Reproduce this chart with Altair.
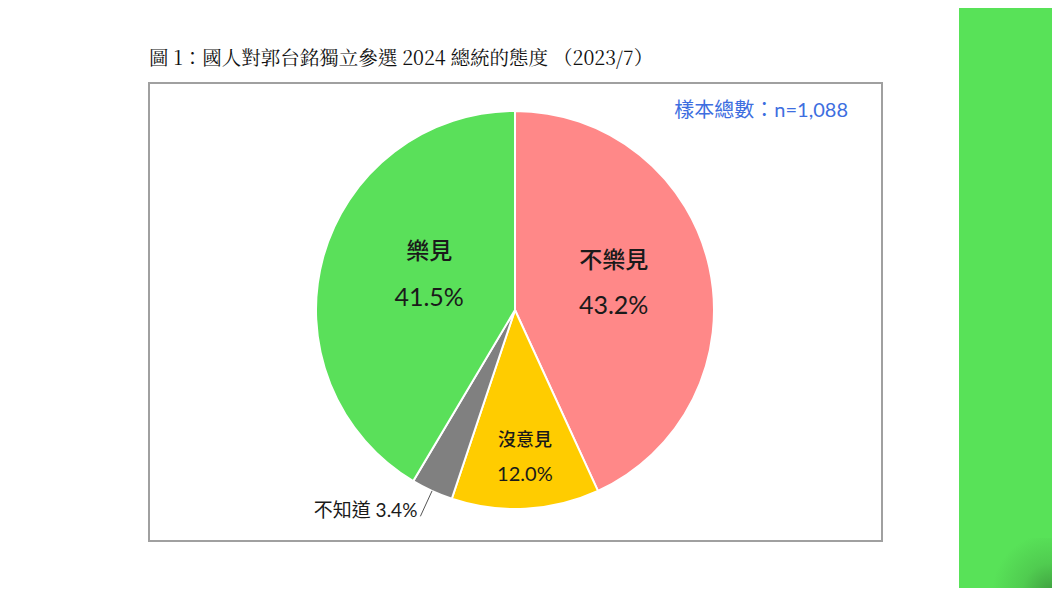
import altair as alt
import pandas as pd

# survey result: attitude toward Terry Gou running independently (2023/7)
categories = ["不樂見", "沒意見", "不知道", "樂見"]
percents = [43.2, 12.0, 3.4, 41.5]
colors = ["#FF8888", "#FFCC00", "#808080", "#5AE05A"]

title_text = "圖 1：國人對郭台銘獨立參選 2024 總統的態度 （2023/7）"
sample_text = "樣本總數：n=1,088"

df = pd.DataFrame(
    {
        "cat": categories,
        "pct": percents,
        "idx": list(range(len(categories))),
        "pct_txt": [f"{p:.1f}%" for p in percents],
        "side_txt": [f"{c} {p:.1f}%" for c, p in zip(categories, percents)],
    }
)

SANS = "Lato, Noto Sans CJK TC, sans-serif"
MEDIUM = "Noto Sans CJK TC Medium, Noto Sans CJK TC, sans-serif"
CX, CY, R = 507, 302, 199  # pie centre / radius in chart pixels

base = alt.Chart(df).encode(
    theta=alt.Theta("pct:Q", stack=True),
    order=alt.Order("idx:Q"),
    x=alt.value(CX),
    y=alt.value(CY),
)

pie = base.mark_arc(outerRadius=R, stroke="white", strokeWidth=2).encode(
    color=alt.Color(
        "cat:N", scale=alt.Scale(domain=categories, range=colors), legend=None
    )
)


def label(cat, field, r, size, font, dx=0, dy=0):
    # keep every row so the stack stays right, blank out the other slices
    return (
        base.mark_text(
            radius=r, fontSize=size, font=font, color="#1a1a1a", dx=dx, dy=dy
        )
        .transform_calculate(t=f"datum.cat == '{cat}' ? datum.{field} : ''")
        .encode(text="t:N")
    )


labels = [
    label("不樂見", "cat", 101, 23, MEDIUM, dy=-27),
    label("不樂見", "pct_txt", 101, 25, SANS, dy=18),
    label("樂見", "cat", 89, 23, MEDIUM, dy=-34),
    label("樂見", "pct_txt", 89, 25, SANS, dy=12),
    label("沒意見", "cat", 148, 18, MEDIUM, dx=2, dy=-17),
    label("沒意見", "pct_txt", 148, 20, SANS, dx=2, dy=17),
]

# leader line for the small slice, from the rim outward at its mid angle
small = (
    alt.Chart(df)
    .transform_joinaggregate(total="sum(pct)")
    .transform_window(cum="sum(pct)", sort=[alt.SortField("idx")], frame=[None, 0])
    .transform_calculate(mid="(datum.cum - datum.pct / 2) / datum.total * 2 * PI")
    .transform_filter("datum.cat == '不知道'")
    .transform_calculate(
        x0=f"{CX} + {R} * sin(datum.mid)",
        y0=f"{CY} - {R} * cos(datum.mid)",
        x1=f"{CX} + {R + 28} * sin(datum.mid)",
        y1=f"{CY} - {R + 28} * cos(datum.mid)",
    )
)
leader = small.mark_rule(color="#555555", strokeWidth=1).encode(
    x=alt.X("x0:Q", scale=None, axis=None),
    y=alt.Y("y0:Q", scale=None, axis=None),
    x2="x1:Q",
    y2="y1:Q",
)
side_label = small.mark_text(
    align="right", baseline="alphabetic", fontSize=19, font=SANS,
    color="#1a1a1a", dx=-3, dy=1,
).encode(
    x=alt.X("x1:Q", scale=None, axis=None),
    y=alt.Y("y1:Q", scale=None, axis=None),
    text="side_txt:N",
)

# frame, title, sample size, green strip on the right
deco = alt.Chart(pd.DataFrame({"a": [0]}))
frame = deco.mark_rect(fill=None, stroke="#A0A0A0", strokeWidth=2).encode(
    x=alt.value(141), x2=alt.value(874), y=alt.value(75), y2=alt.value(533)
)
strip = deco.mark_rect(color="#58E258").encode(
    x=alt.value(951), x2=alt.value(1044), y=alt.value(0), y2=alt.value(580)
)
corner = deco.mark_rect(
    color={
        "gradient": "radial",
        "x1": 1, "y1": 1, "r1": 0,
        "x2": 1, "y2": 1, "r2": 1,
        "stops": [
            {"offset": 0, "color": "#3F9E3F"},
            {"offset": 0.5, "color": "#50CC50"},
            {"offset": 1, "color": "#58E258"},
        ],
    }
).encode(x=alt.value(984), x2=alt.value(1044), y=alt.value(530), y2=alt.value(580))
title = deco.mark_text(
    align="left", fontSize=19.5,
    font="Noto Serif CJK TC, Liberation Serif, Noto Sans CJK TC", color="#111111",
).encode(x=alt.value(141), y=alt.value(51), text=alt.value(title_text))
sample = deco.mark_text(
    align="right", fontSize=20, font=SANS, color="#3D6EE0"
).encode(x=alt.value(840), y=alt.value(103), text=alt.value(sample_text))

chart = (
    alt.layer(strip, corner, frame, title, sample, pie, *labels, leader, side_label)
    .properties(width=1044, height=580, padding=0, autosize="none", background="white")
    .configure_view(stroke=None)
)

chart.save("out.html", embed_options={"renderer": "svg", "actions": False})
